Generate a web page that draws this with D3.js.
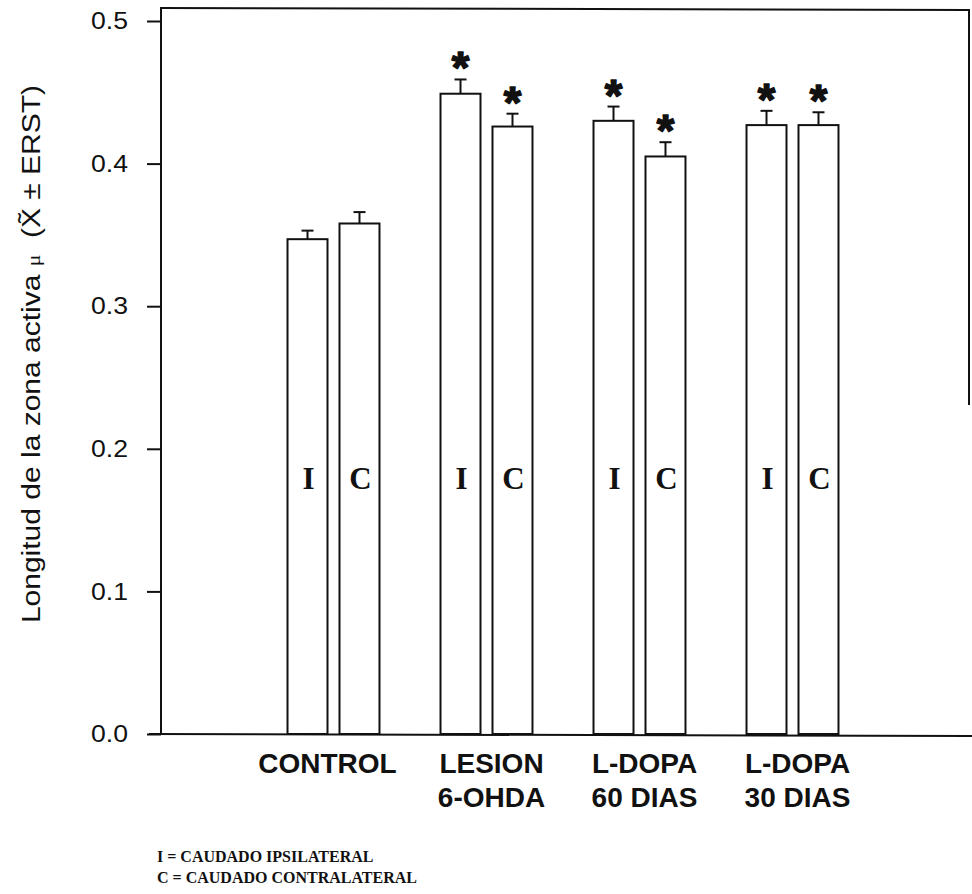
<!DOCTYPE html>
<html>
<head>
<meta charset="utf-8">
<script src="https://cdn.jsdelivr.net/npm/d3@7"></script>
<style>
  html, body { margin: 0; padding: 0; background: #fff; }
  svg { display: block; }
</style>
</head>
<body>
<svg id="chart" width="972" height="894"></svg>
<script>
// Active-zone length per treatment group, ipsilateral (I) and contralateral (C) caudate
const groups = ["CONTROL", "LESION", "LDOPA60", "LDOPA30"];
const groupLabels = [["CONTROL"], ["LESION", "6-OHDA"], ["L-DOPA", "60 DIAS"], ["L-DOPA", "30 DIAS"]];
const sides = ["I", "C"];
const meanI = [0.347, 0.449, 0.430, 0.427];
const meanC = [0.358, 0.426, 0.405, 0.427];
const semI = [0.006, 0.010, 0.010, 0.010];
const semC = [0.008, 0.009, 0.010, 0.009];
const significantI = [false, true, true, true];
const significantC = [false, true, true, true];
const yTicks = [0.0, 0.1, 0.2, 0.3, 0.4, 0.5];
const legendLines = ["I = CAUDADO IPSILATERAL", "C = CAUDADO CONTRALATERAL"];

const rows = [];
groups.forEach((g, i) => {
  rows.push({ group: g, side: "I", mean: meanI[i], sem: semI[i], sig: significantI[i] });
  rows.push({ group: g, side: "C", mean: meanC[i], sem: semC[i], sig: significantC[i] });
});

const svg = d3.select("#chart");
const frame = { left: 161, right: 969, top: 8, bottom: 734 };

const y = d3.scaleLinear().domain([0, 0.5]).range([734, 21]);
const x0 = d3.scaleBand().domain(groups).range([257, 869]).padding(0);
const x1 = d3.scaleBand().domain(sides).range([0, x0.bandwidth()])
  .paddingInner(0.2308).paddingOuter(0.587);

const ink = "#111";
const sans = "'Liberation Sans', Arial, Helvetica, sans-serif";
const serif = "'Liberation Serif', 'Times New Roman', serif";

// frame: left axis, top edge, partial right edge, baseline
svg.append("line").attr("x1", frame.left).attr("x2", frame.left)
  .attr("y1", frame.top).attr("y2", frame.bottom + 1)
  .attr("stroke", ink).attr("stroke-width", 2);
svg.append("line").attr("x1", frame.left - 1).attr("x2", frame.right + 1)
  .attr("y1", frame.top).attr("y2", frame.top + 2)
  .attr("stroke", ink).attr("stroke-width", 2);
svg.append("line").attr("x1", frame.right).attr("x2", frame.right)
  .attr("y1", frame.top + 2).attr("y2", 405)
  .attr("stroke", ink).attr("stroke-width", 2);
svg.append("line").attr("x1", frame.left - 12).attr("x2", 972)
  .attr("y1", frame.bottom).attr("y2", frame.bottom + 2)
  .attr("stroke", ink).attr("stroke-width", 2);

// y axis ticks and labels
const yAxis = d3.axisLeft(y).tickValues(yTicks).tickSize(14).tickSizeOuter(0)
  .tickPadding(19).tickFormat(d3.format(".1f"));
const ga = svg.append("g").attr("transform", `translate(${frame.left},0)`).call(yAxis);
ga.select(".domain").remove();
ga.selectAll(".tick line").attr("stroke", ink).attr("stroke-width", 2);
ga.selectAll(".tick text").attr("fill", ink)
  .attr("textLength", 37).attr("lengthAdjust", "spacingAndGlyphs")
  .style("font-family", sans)
  .style("font-size", "24px");

// y axis title (drawn slightly stretched along its length)
const yt = svg.append("text")
  .attr("transform", "translate(40,354) rotate(-90) scale(1.2,1)")
  .attr("text-anchor", "middle")
  .attr("fill", ink)
  .style("font-family", sans)
  .style("font-size", "25px");
yt.append("tspan").text("Longitud de la zona activa ");
yt.append("tspan").style("font-family", serif).style("font-size", "18px").text("μ");
yt.append("tspan").text("\u00a0\u00a0(X\u0303 \u00b1 ERST)");

// bars
const bars = svg.append("g");
bars.selectAll("rect").data(rows).join("rect")
  .attr("x", d => x0(d.group) + x1(d.side))
  .attr("y", d => y(d.mean))
  .attr("width", x1.bandwidth())
  .attr("height", d => y(0) - y(d.mean))
  .attr("fill", "#fff").attr("stroke", ink).attr("stroke-width", 2);

// error bars (upper half only)
const eb = svg.append("g").attr("stroke", ink).attr("stroke-width", 2);
rows.forEach(d => {
  const cx = x0(d.group) + x1(d.side) + x1.bandwidth() / 2;
  eb.append("line").attr("x1", cx).attr("x2", cx).attr("y1", y(d.mean)).attr("y2", y(d.mean + d.sem));
  eb.append("line").attr("x1", cx - 6).attr("x2", cx + 6).attr("y1", y(d.mean + d.sem)).attr("y2", y(d.mean + d.sem));
});

// significance asterisks
svg.append("g").selectAll("text").data(rows.filter(d => d.sig)).join("text")
  .attr("x", d => x0(d.group) + x1(d.side) + x1.bandwidth() / 2)
  .attr("y", d => y(d.mean + d.sem) + 4)
  .attr("text-anchor", "middle").attr("fill", ink)
  .attr("stroke", ink).attr("stroke-width", 1.6).attr("stroke-linejoin", "round")
  .style("font-family", sans)
  .style("font-weight", "bold").style("font-size", "45px")
  .text("*");

// side letters inside bars
svg.append("g").selectAll("text").data(rows).join("text")
  .attr("x", d => x0(d.group) + x1(d.side) + x1.bandwidth() / 2 + 1)
  .attr("y", 489)
  .attr("text-anchor", "middle").attr("fill", ink)
  .style("font-family", serif)
  .style("font-weight", "bold").style("font-size", "31px")
  .text(d => d.side);

// group labels under the axis
const gl = svg.append("g");
groups.forEach((g, i) => {
  const cx = x0(g) + x0.bandwidth() / 2 + (i === 0 ? -6 : 5);
  const t = gl.append("text")
    .attr("x", cx)
    .attr("y", 773)
    .attr("text-anchor", "middle").attr("fill", ink)
    .style("font-family", sans)
    .style("font-weight", "bold").style("font-size", "28px");
  groupLabels[i].forEach((line, k) => {
    t.append("tspan").attr("x", cx).attr("dy", k === 0 ? 0 : 34).text(line);
  });
});

// key for the letters
svg.append("g").selectAll("text").data(legendLines).join("text")
  .attr("x", 157)
  .attr("y", (d, i) => 862 + i * 21)
  .attr("fill", ink)
  .style("font-family", serif)
  .style("font-weight", "bold").style("font-size", "16px")
  .text(d => d);
</script>
</body>
</html>
